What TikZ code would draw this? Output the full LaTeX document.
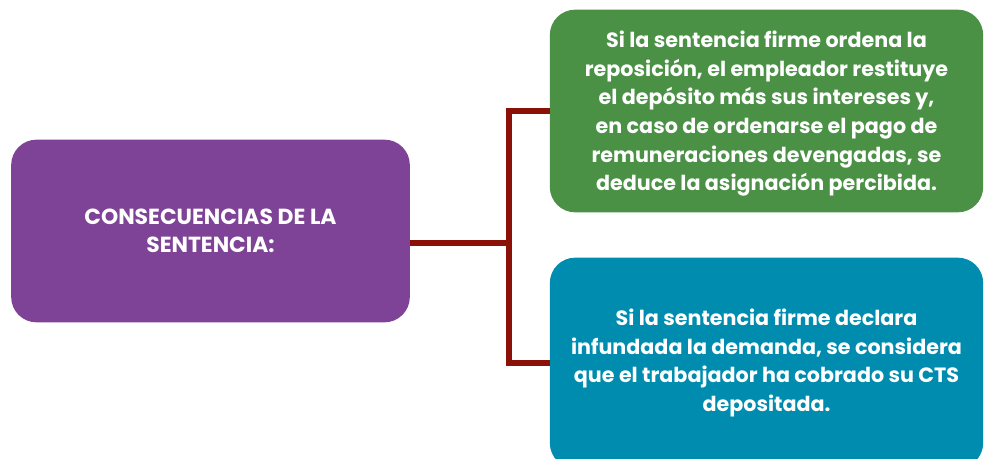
\documentclass[tikz,border=0pt]{standalone}
\usepackage{fontspec}
\setmainfont{Poppins}
\definecolor{cpurple}{RGB}{126,67,150}
\definecolor{cgreen}{RGB}{74,145,70}
\definecolor{cblue}{RGB}{0,140,175}
\definecolor{clink}{RGB}{139,16,8}
\begin{document}
\begin{tikzpicture}[x=0.75pt,y=-0.75pt,
  box/.style={rounded corners=19pt,inner sep=0pt,text=white,align=center,
    font=\fontsize{15.5}{21.5}\selectfont\bfseries},
  link/.style={draw=clink,line width=3.8pt}]
\useasboundingbox (0,0) rectangle (987,459);

\node[box,fill=cpurple,minimum width=299pt,minimum height=137pt,
  font=\fontsize{16.4}{21}\selectfont\bfseries] (cons) at (210.5,231) {CONSECUENCIAS DE LA\\ SENTENCIA:};

\node[box,fill=cgreen,minimum width=325pt,minimum height=152pt,
  text depth=-3pt] (pos) at (766.5,111) {Si la sentencia firme ordena la\\ reposición, el empleador restituye\\ el depósito más sus intereses y,\\ en caso de ordenarse el pago de\\ remuneraciones devengadas, se\\ deduce la asignación percibida.};

\node[box,fill=cblue,minimum width=325pt,minimum height=158pt] (neg) at (766.5,363) {Si la sentencia firme declara\\ infundada la demanda, se considera\\ que el trabajador ha cobrado su CTS\\ depositada.};

% connectors
\coordinate (hub) at (509,243);
\draw[link] (cons.east |- hub) -- (hub);
\draw[link] (pos.west) -| (hub) |- (neg.west);
\end{tikzpicture}
\end{document}
